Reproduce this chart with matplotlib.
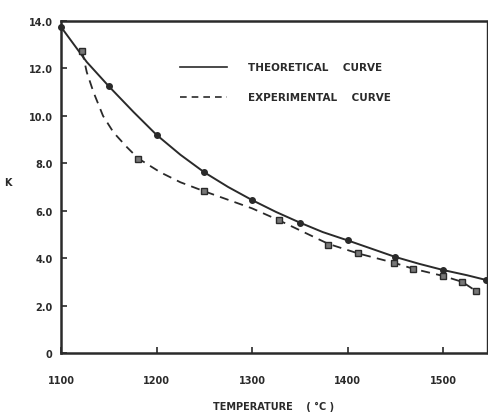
import matplotlib.pyplot as plt

# theoretical points (circles)
theo_t = [1100, 1150, 1200, 1250, 1300, 1350, 1400, 1450, 1500, 1545]
theo_k = [13.75, 11.25, 9.2, 7.62, 6.45, 5.5, 4.75, 4.05, 3.5, 3.08]

# theoretical solid curve
theo_curve_t = [1100, 1127, 1150, 1176, 1200, 1225, 1250, 1275, 1300, 1325,
                1350, 1374, 1400, 1425, 1450, 1475, 1500, 1525, 1545]
theo_curve_k = [13.75, 12.27, 11.25, 10.16, 9.2, 8.36, 7.62, 7.0, 6.45, 5.95,
                5.5, 5.1, 4.75, 4.4, 4.05, 3.76, 3.5, 3.28, 3.08]

# experimental points (squares)
exp_t = [1122, 1181, 1250, 1328, 1380, 1411, 1449, 1469, 1500, 1520, 1535]
exp_k = [12.75, 8.2, 6.82, 5.6, 4.56, 4.2, 3.8, 3.55, 3.25, 3.0, 2.6]

# experimental dashed curve
exp_curve_t = [1122, 1127, 1134, 1144, 1155, 1169, 1181, 1204, 1225, 1250,
               1300, 1328, 1380, 1411, 1449, 1469, 1500, 1520, 1535]
exp_curve_k = [12.75, 11.84, 11.0, 10.0, 9.3, 8.68, 8.2, 7.62, 7.2, 6.82,
               6.1, 5.6, 4.6, 4.2, 3.8, 3.55, 3.25, 3.0, 2.6]

xticks = [1100, 1200, 1300, 1400, 1500]
yticks = [0, 2, 4, 6, 8, 10, 12, 14]
ylabels = ["0", "2.0", "4.0", "6.0", "8.0", "10.0", "12.0", "14.0"]

ink = "#2a2a2a"
fig = plt.figure(figsize=(4.89, 4.14), dpi=100)
ax = fig.add_axes([61/489, 60/414, 426/489, 332/414])

ax.plot(theo_curve_t, theo_curve_k, "-", color=ink, lw=1.4, clip_on=False)
ax.plot(theo_t, theo_k, "o", color=ink, ms=4, mfc=ink, clip_on=False)
ax.plot(exp_curve_t, exp_curve_k, "--", color=ink, lw=1.3, dashes=(5, 3.5),
        clip_on=False)
ax.plot(exp_t, exp_k, "s", color=ink, ms=4, mfc="#777777", clip_on=False)

ax.set_xlim(1100, 1546)
ax.set_ylim(0, 14)
ax.set_xticks(xticks)
ax.set_yticks(yticks)
ax.set_yticklabels(ylabels)
ax.tick_params(direction="in", length=4, width=1.2, color=ink,
               labelsize=7, labelcolor=ink)
ax.tick_params(axis="x", pad=16)
ax.tick_params(axis="y", pad=6)
for lbl in ax.get_xticklabels() + ax.get_yticklabels():
    lbl.set_fontweight("bold")
for s in ax.spines.values():
    s.set_linewidth(1.8)
    s.set_color(ink)
ax.spines["right"].set_linewidth(1.0)

ax.set_ylabel("K", rotation=0, fontsize=7, fontweight="bold", color=ink)
ax.yaxis.set_label_coords(-0.125, 0.50)
ax.set_xlabel("TEMPERATURE    ( °C )", fontsize=7, fontweight="bold",
              color=ink)
ax.xaxis.set_label_coords(0.5, -0.145)

# legend drawn by hand
ax.plot([0.28, 0.39], [0.86, 0.86], "-", color=ink, lw=1.2,
        transform=ax.transAxes)
ax.plot([0.28, 0.39], [0.77, 0.77], "--", color=ink, lw=1.2,
        dashes=(4, 3), transform=ax.transAxes)
ax.text(0.44, 0.86, "THEORETICAL    CURVE", transform=ax.transAxes,
        fontsize=7.5, fontweight="bold", color=ink, va="center")
ax.text(0.44, 0.77, "EXPERIMENTAL    CURVE", transform=ax.transAxes,
        fontsize=7.5, fontweight="bold", color=ink, va="center")

fig.savefig("out.png", dpi=100)
